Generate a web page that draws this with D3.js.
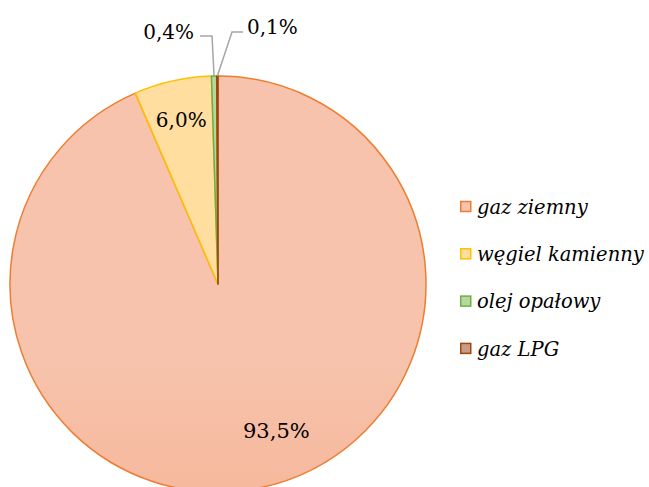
<!DOCTYPE html>
<html>
<head>
<meta charset="utf-8">
<script src="https://cdn.jsdelivr.net/npm/d3@7"></script>
<style>
  body { margin: 0; background: #fff; }
  svg { display: block; }
  text { font-family: "DejaVu Serif", "Liberation Serif", serif; fill: #000; }
</style>
</head>
<body>
<div id="chart"></div>
<script>
(function () {
  'use strict';

  var categories = ['gaz ziemny', 'węgiel kamienny', 'olej opałowy', 'gaz LPG'];
  var values = [93.5, 6.0, 0.4, 0.1];
  var labels = ['93,5%', '6,0%', '0,4%', '0,1%'];
  var fills = [['#F7C3AC', '#F4A27E'], ['#FFDEA0', '#FFD58A'], ['#B5D99C', '#A9D18E'], ['#C99A85', '#C0876E']];
  var strokes = ['#ED7D31', '#FFC000', '#70AD47', '#9E480E'];

  var width = 649, height = 487;
  var cx = 218, cy = 284, r = 208;

  var data = categories.map(function (c, i) {
    return { name: c, value: values[i], label: labels[i], i: i };
  });

  var svg = d3.select('#chart').append('svg')
      .attr('width', width)
      .attr('height', height);

  var defs = svg.append('defs');
  fills.forEach(function (f, i) {
    var g = defs.append('linearGradient')
        .attr('id', 'grad' + i)
        .attr('gradientUnits', 'userSpaceOnUse')
        .attr('x1', 0).attr('y1', cy - r)
        .attr('x2', 0).attr('y2', cy + r);
    g.append('stop').attr('offset', '0%').attr('stop-color', f[0]);
    g.append('stop').attr('offset', '100%').attr('stop-color', f[1]);
  });

  var pie = d3.pie().sort(null).value(function (d) { return d.value; });
  var arc = d3.arc().innerRadius(0).outerRadius(r);
  var arcs = pie(data);

  var g = svg.append('g').attr('transform', 'translate(' + cx + ',' + cy + ')');

  g.selectAll('path.slice')
    .data(arcs)
    .enter()
    .append('path')
    .attr('class', 'slice')
    .attr('d', arc)
    .attr('fill', function (d) { return 'url(#grad' + d.data.i + ')'; })
    .attr('stroke', function (d) { return strokes[d.data.i]; })
    .attr('stroke-width', 1.5)
    .attr('stroke-linejoin', 'round');

  // inside labels for the two big slices
  var labelArc = d3.arc().innerRadius(r * 0.72).outerRadius(r * 0.72);
  var c0 = labelArc.centroid(arcs[0]);
  g.append('text')
    .attr('x', c0[0] + 28)
    .attr('y', c0[1])
    .attr('text-anchor', 'middle')
    .attr('dy', '0.35em')
    .style('font-size', '21px')
    .text(arcs[0].data.label);

  var arc6 = d3.arc().innerRadius(r * 0.81).outerRadius(r * 0.81);
  g.append('text')
    .attr('x', arc6.centroid(arcs[1])[0])
    .attr('y', arc6.centroid(arcs[1])[1])
    .attr('text-anchor', 'middle')
    .attr('dy', '0.35em')
    .style('font-size', '20px')
    .text(arcs[1].data.label);

  // outside labels with leader lines for the tiny slices
  var outer = d3.arc().innerRadius(r).outerRadius(r);
  var leaders = [
    { a: arcs[2], knee: [-6, -248], end: [-18, -248], tx: -24, ty: -252, anchor: 'end' },
    { a: arcs[3], knee: [14, -252], end: [25, -252], tx: 29, ty: -257, anchor: 'start' }
  ];
  leaders.forEach(function (l) {
    var p = outer.centroid(l.a);
    g.append('polyline')
      .attr('points', [p, l.knee, l.end].map(function (q) { return q.join(','); }).join(' '))
      .attr('fill', 'none')
      .attr('stroke', '#A6A6A6')
      .attr('stroke-width', 1.5);
    g.append('text')
      .attr('x', l.tx)
      .attr('y', l.ty)
      .attr('text-anchor', l.anchor)
      .attr('dy', '0.35em')
      .style('font-size', '20px')
      .text(l.a.data.label);
  });

  // legend
  var legend = svg.append('g').attr('transform', 'translate(460,207)');
  var item = legend.selectAll('g')
    .data(data)
    .enter()
    .append('g')
    .attr('transform', function (d, i) { return 'translate(0,' + (i * 47.3) + ')'; });

  item.append('rect')
    .attr('x', 0.75).attr('y', -5.5)
    .attr('width', 10).attr('height', 10)
    .attr('fill', function (d) { return fills[d.i][0]; })
    .attr('stroke', function (d) { return strokes[d.i]; })
    .attr('stroke-width', 1.5);

  item.append('text')
    .attr('x', 17)
    .attr('dy', '0.35em')
    .style('font-size', '19.5px')
    .style('font-style', 'italic')
    .text(function (d) { return d.name; });
}());
</script>
</body>
</html>
